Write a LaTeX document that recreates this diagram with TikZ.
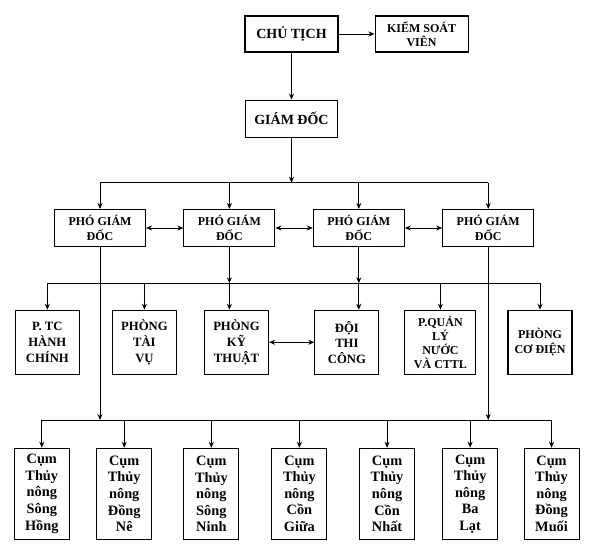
\documentclass[tikz,border=0pt]{standalone}
\usepackage{fontspec}
\setmainfont{Liberation Serif}
\usetikzlibrary{shapes,arrows,arrows.meta,positioning}

\begin{document}
\begin{tikzpicture}[
    box/.style={rectangle, draw, line width=0.8pt, align=center, inner sep=1pt},
    head/.style={box, minimum width=69.75pt, minimum height=27pt, font=\bfseries\fontsize{10.5}{12}\selectfont},
    deputy/.style={box, minimum width=68.25pt, minimum height=27.75pt, font=\bfseries\fontsize{9}{11.25}\selectfont},
    dept/.style={box, minimum width=48pt, minimum height=48pt, font=\bfseries\fontsize{9.5}{11.75}\selectfont},
    cluster/.style={box, minimum width=41.25pt, minimum height=68.25pt, font=\bfseries\fontsize{10.75}{12.4}\selectfont},
    arrow/.style={line width=0.6pt,->,>={Stealth[length=4.5pt,width=3.75pt]}},
    link/.style={line width=0.6pt,<->,>={Stealth[length=4.5pt,width=3.75pt]}},
    bus/.style={line width=0.6pt}
]
\useasboundingbox (0,0) rectangle (443.25pt,-416.25pt);

% Top
\node (chutich) [head] at (218.6pt,-25.5pt) {CHỦ TỊCH};
\node (kiemsoat) [head, right=27pt of chutich, font=\bfseries\fontsize{9}{10.5}\selectfont] {KIỂM SOÁT\\VIÊN};
\node (giamdoc) [head, below=35.25pt of chutich, minimum width=69pt, minimum height=27.75pt] {GIÁM ĐỐC};

\draw [arrow] (chutich) -- (kiemsoat);
\draw [arrow] (chutich) -- (giamdoc);

% Deputies
\node (pgd1) [deputy] at (75pt,-171pt) {PHÓ GIÁM\\ĐỐC};
\node (pgd2) [deputy, right=28pt of pgd1] {PHÓ GIÁM\\ĐỐC};
\node (pgd3) [deputy, right=28pt of pgd2] {PHÓ GIÁM\\ĐỐC};
\node (pgd4) [deputy, right=28pt of pgd3] {PHÓ GIÁM\\ĐỐC};

\coordinate (busA) at (0,-137pt);
\coordinate (busB) at (0,-212.5pt);
\coordinate (busC) at (0,-315pt);

\draw [arrow] (giamdoc) -- (giamdoc |- busA);
\draw [bus] (pgd1 |- busA) -- (pgd4 |- busA);
\draw [arrow] (pgd1 |- busA) -- (pgd1);
\draw [arrow] (pgd2 |- busA) -- (pgd2);
\draw [arrow] (pgd3 |- busA) -- (pgd3);
\draw [arrow] (pgd4 |- busA) -- (pgd4);

\draw [link] (pgd1) -- (pgd2);
\draw [link] (pgd2) -- (pgd3);
\draw [link] (pgd3) -- (pgd4);

% Departments
\node (tchc) [dept] at (35.5pt,-256.7pt) {P. TC\\HÀNH\\CHÍNH};
\node (taivu) [dept, right=24pt of tchc] {PHÒNG\\TÀI\\VỤ};
\node (kythuat) [dept, right=20.25pt of taivu] {PHÒNG\\KỸ\\THUẬT};
\node (thicong) [dept, right=34pt of kythuat] {ĐỘI\\THI\\CÔNG};
\node (quanly) [dept, right=18.75pt of thicong, minimum width=53.25pt, font=\bfseries\fontsize{9}{10.5}\selectfont] {P.QUẢN\\LÝ\\NƯỚC\\VÀ CTTL};
\node (codien) [dept, right=23.25pt of quanly, font=\bfseries\fontsize{9}{11.25}\selectfont] {PHÒNG\\CƠ ĐIỆN};

\draw [arrow] (pgd2) -- (pgd2 |- busB);
\draw [arrow] (pgd3) -- (pgd3 |- busB);
\draw [bus] (tchc |- busB) -- (codien |- busB);
\draw [arrow] (tchc |- busB) -- (tchc);
\draw [arrow] (taivu |- busB) -- (taivu);
\draw [arrow] (pgd2 |- busB) -- (pgd2 |- kythuat.north);
\draw [arrow] (pgd3 |- busB) -- (pgd3 |- thicong.north);
\draw [arrow] (quanly |- busB) -- (quanly);
\draw [arrow] (codien |- busB) -- (codien);

\draw [link] (kythuat) -- (thicong);

% Irrigation clusters
\node (songhong) [cluster] at (31.35pt,-370.35pt) {Cụm\\Thủy\\nông\\Sông\\Hồng};
\node (dongne) [cluster, right=19.8pt of songhong] {Cụm\\Thủy\\nông\\Đồng\\Nê};
\node (songninh) [cluster, right=23.25pt of dongne] {Cụm\\Thủy\\nông\\Sông\\Ninh};
\node (congiua) [cluster, right=24pt of songninh] {Cụm\\Thủy\\nông\\Cồn\\Giữa};
\node (connhat) [cluster, right=23.7pt of congiua] {Cụm\\Thủy\\nông\\Cồn\\Nhất};
\node (balat) [cluster, right=20.25pt of connhat] {Cụm\\Thủy\\nông\\Ba\\Lạt};
\node (dongmuoi) [cluster, right=19pt of balat] {Cụm\\Thủy\\nông\\Đồng\\Muối};

\draw [arrow] (pgd1) -- (pgd1 |- busC);
\draw [arrow] (pgd4) -- (pgd4 |- busC);
\draw [bus] (songhong |- busC) -- (dongmuoi |- busC);
\draw [arrow] (songhong |- busC) -- (songhong);
\draw [arrow] (dongne |- busC) -- (dongne);
\draw [arrow] (songninh |- busC) -- (songninh);
\draw [arrow] (congiua |- busC) -- (congiua);
\draw [arrow] (connhat |- busC) -- (connhat);
\draw [arrow] (balat |- busC) -- (balat);
\draw [arrow] (dongmuoi |- busC) -- (dongmuoi);

\end{tikzpicture}
\end{document}
